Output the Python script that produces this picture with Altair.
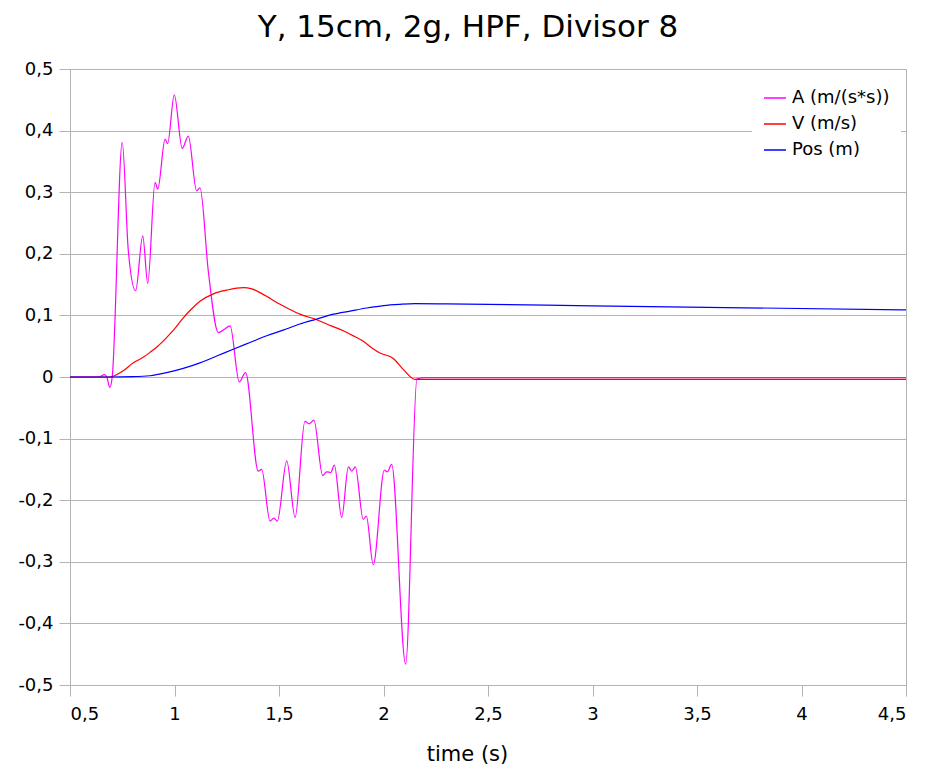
import altair as alt
import pandas as pd

# ---------------- data ----------------
series_names = ["A (m/(s*s))", "V (m/s)", "Pos (m)"]
series_colors = ["#ff00ff", "#ff0000", "#0000ff"]

a_t = [0.5, 0.64, 0.664, 0.676, 0.691, 0.702, 0.750, 0.779, 0.814, 0.848, 0.872,
       0.907, 0.920, 0.955, 0.967, 0.999, 1.037, 1.066, 1.106, 1.122, 1.162,
       1.210, 1.237, 1.266, 1.310, 1.340, 1.401, 1.417, 1.457, 1.475, 1.492,
       1.537, 1.577, 1.624, 1.645, 1.667, 1.709, 1.728, 1.748, 1.765, 1.800,
       1.832, 1.849, 1.865, 1.903, 1.918, 1.951, 2.004, 2.018, 2.039, 2.106,
       2.160, 2.200, 4.5]
a_v = [0.0, 0.0, 0.004, 0.0, -0.017, 0.0, 0.381, 0.205, 0.140, 0.229, 0.152,
       0.316, 0.305, 0.386, 0.379, 0.458, 0.371, 0.391, 0.302, 0.307, 0.171,
       0.072, 0.077, 0.083, -0.008, 0.007, -0.153, -0.150, -0.234, -0.229, -0.234,
       -0.136, -0.228, -0.072, -0.076, -0.070, -0.160, -0.154, -0.155, -0.143, -0.228,
       -0.146, -0.153, -0.146, -0.231, -0.226, -0.305, -0.151, -0.154, -0.142, -0.466,
       -0.003, -0.001, -0.001]

v_t = [0.5, 0.69, 0.75, 0.803, 0.85, 0.883, 0.92, 0.962, 1.0, 1.042, 1.08, 1.122,
       1.186, 1.25, 1.329, 1.37, 1.409, 1.46, 1.505, 1.55, 1.6, 1.68, 1.75, 1.808,
       1.86, 1.903, 1.95, 1.983, 2.047, 2.095, 2.151, 4.5]
v_v = [0.0, 0.0, 0.009, 0.023, 0.032, 0.040, 0.050, 0.064, 0.078, 0.096, 0.110, 0.123,
       0.135, 0.141, 0.145, 0.143, 0.137, 0.127, 0.118, 0.110, 0.102, 0.093, 0.083, 0.075,
       0.066, 0.058, 0.046, 0.039, 0.030, 0.012, -0.004, -0.004]

p_t = [0.5, 0.69, 0.8, 0.883, 0.962, 1.042, 1.122, 1.202, 1.281, 1.361, 1.441, 1.52,
       1.6, 1.68, 1.76, 1.84, 1.92, 2.0, 2.079, 2.15, 2.3, 3.0, 4.5]
p_v = [0.0, 0.0, 0.0005, 0.002, 0.007, 0.014, 0.023, 0.034, 0.045, 0.056, 0.067, 0.076,
       0.086, 0.094, 0.102, 0.107, 0.112, 0.116, 0.118, 0.119, 0.1187, 0.1155, 0.109]

x_ticks = [0.5, 1, 1.5, 2, 2.5, 3, 3.5, 4, 4.5]
y_ticks = [-0.5, -0.4, -0.3, -0.2, -0.1, 0, 0.1, 0.2, 0.3, 0.4, 0.5]

frames = []
for i, (name, ts, vs) in enumerate(zip(series_names, [a_t, v_t, p_t], [a_v, v_v, p_v])):
    frames.append(pd.DataFrame({"t": ts, "v": vs, "series": name, "order": i}))
df = pd.concat(frames, ignore_index=True)

FONT = "DejaVu Sans"
GRID = "#b3b3b3"
label_expr = "(datum.value < 0 ? '-' : '') + replace(format(abs(datum.value), '.1~f'), '.', ',')"

chart = alt.Chart(df).mark_line(strokeWidth=1.2, interpolate="monotone").encode(
    x=alt.X("t:Q",
            scale=alt.Scale(domain=[0.5, 4.5], nice=False, zero=False),
            axis=alt.Axis(values=x_ticks, grid=False, title="time (s)",
                          labelExpr=label_expr, tickSize=11, labelPadding=9,
                          titleFontSize=21, titleFontWeight="normal",
                          titleX=397, titleY=75, titleBaseline="alphabetic")),
    y=alt.Y("v:Q",
            scale=alt.Scale(domain=[-0.5, 0.5], nice=False, zero=False),
            axis=alt.Axis(values=y_ticks, grid=True, title=None,
                          labelExpr=label_expr, tickSize=11, labelPadding=6)),
    color=alt.Color("series:N",
                    scale=alt.Scale(domain=series_names, range=series_colors),
                    legend=alt.Legend(title=None, orient="none", legendX=682, legendY=6,
                                      fillColor="white", padding=11,
                                      symbolType="stroke", symbolSize=484,
                                      symbolStrokeWidth=1.5, labelOffset=5,
                                      rowPadding=5, labelFontSize=18, labelFont=FONT,
                                      labelColor="#000000", labelLimit=400,
                                      labelExpr="datum.label + '\u00a0\u00a0\u00a0\u00a0\u00a0\u00a0\u00a0'")),
    detail="series:N",
    order="order:Q",
).properties(
    width=836,
    height=616,
    title=alt.TitleParams("Y, 15cm, 2g, HPF, Divisor 8", fontSize=31, font=FONT,
                          fontWeight="normal", color="#000000", anchor="middle",
                          dx=-20, offset=16),
    autosize=alt.AutoSizeParams(type="none"),
    padding={"left": 62, "top": 61, "right": 8, "bottom": 86},
).configure_view(
    stroke=GRID, strokeWidth=1
).configure_axis(
    labelFont=FONT, labelFontSize=18, labelColor="#000000",
    titleFont=FONT, titleColor="#000000",
    domainColor=GRID, tickColor=GRID, gridColor=GRID, gridWidth=1, domainWidth=1
)

chart.save("out.html", embed_options={"renderer": "svg", "actions": False})
